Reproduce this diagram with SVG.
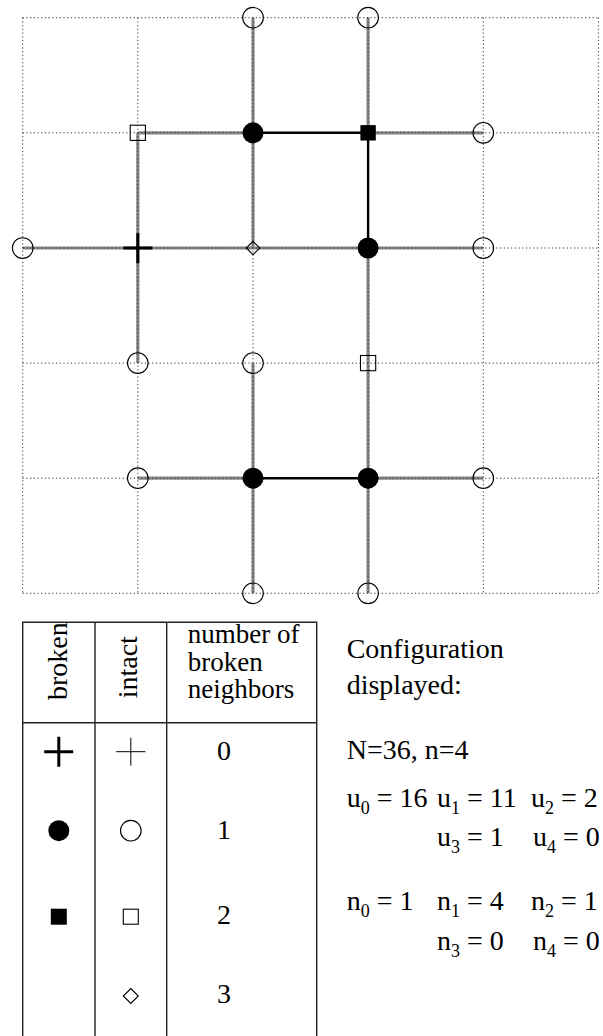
<svg xmlns="http://www.w3.org/2000/svg" width="603" height="1036" viewBox="0 0 603 1036">
<style>
.grid{stroke:#333;stroke-width:1;stroke-dasharray:1.2 2.5;fill:none}
.gray{stroke:#888;stroke-width:3.2;fill:none}
.blk{stroke:#000;stroke-width:2.4;fill:none}
.oc{fill:none;stroke:#000;stroke-width:1.1}
.fc{fill:#000;stroke:none}
.osq{fill:none;stroke:#000;stroke-width:1.1}
.tl{stroke:#222;stroke-width:1.4;fill:none}
text{font-family:"Liberation Serif","Times New Roman",serif;font-size:28px;fill:#000}
.hd{font-size:27px}
.sub{font-size:18px}
</style>
<rect width="603" height="1036" fill="#fff"/>
<g id="connectors">
<g id="bonds-intact">
<line class="gray" x1="253" y1="17.7" x2="253" y2="248"/>
<line class="gray" x1="253" y1="363.1" x2="253" y2="593.3"/>
<line class="gray" x1="137.8" y1="132.8" x2="137.8" y2="363.1"/>
<line class="gray" x1="368.1" y1="17.7" x2="368.1" y2="132.8"/>
<line class="gray" x1="368.1" y1="248" x2="368.1" y2="593.3"/>
<line class="gray" x1="137.8" y1="132.8" x2="253" y2="132.8"/>
<line class="gray" x1="368.1" y1="132.8" x2="483.3" y2="132.8"/>
<line class="gray" x1="22.7" y1="248" x2="483.3" y2="248"/>
<line class="gray" x1="137.8" y1="478.2" x2="253" y2="478.2"/>
<line class="gray" x1="368.1" y1="478.2" x2="483.3" y2="478.2"/>
</g>
</g>
<g id="grid">
<line class="grid" x1="22.7" y1="17.7" x2="598.4" y2="17.7"/>
<line class="grid" x1="22.7" y1="132.8" x2="598.4" y2="132.8"/>
<line class="grid" x1="22.7" y1="248" x2="598.4" y2="248"/>
<line class="grid" x1="22.7" y1="363.1" x2="598.4" y2="363.1"/>
<line class="grid" x1="22.7" y1="478.2" x2="598.4" y2="478.2"/>
<line class="grid" x1="22.7" y1="593.3" x2="598.4" y2="593.3"/>
<line class="grid" x1="22.7" y1="17.7" x2="22.7" y2="593.3"/>
<line class="grid" x1="137.8" y1="17.7" x2="137.8" y2="593.3"/>
<line class="grid" x1="253" y1="17.7" x2="253" y2="593.3"/>
<line class="grid" x1="368.1" y1="17.7" x2="368.1" y2="593.3"/>
<line class="grid" x1="483.3" y1="17.7" x2="483.3" y2="593.3"/>
<line class="grid" x1="598.4" y1="17.7" x2="598.4" y2="593.3"/>
</g>
<g id="connectors-broken">
<line class="blk" x1="253" y1="132.8" x2="368.1" y2="132.8"/>
<line class="blk" x1="368.1" y1="132.8" x2="368.1" y2="248"/>
<line class="blk" x1="253" y1="478.2" x2="368.1" y2="478.2"/>
</g>
<g id="n-2-0"><circle class="oc" cx="253" cy="17.7" r="10.3"/></g>
<g id="n-3-0"><circle class="oc" cx="368.1" cy="17.7" r="10.3"/></g>
<g id="n-1-1"><rect class="osq" x="130.2" y="125.2" width="15.2" height="15.2"/></g>
<g id="n-2-1"><circle class="fc" cx="253" cy="132.8" r="10.5"/></g>
<g id="n-3-1"><rect class="fc" x="360.4" y="125.1" width="15.4" height="15.4"/></g>
<g id="n-4-1"><circle class="oc" cx="483.3" cy="132.8" r="10.3"/></g>
<g id="n-0-2"><circle class="oc" cx="22.7" cy="248" r="10.3"/></g>
<g id="n-1-2"><path d="M123.3 248H152.3M137.8 233.3V263.3" stroke="#000" stroke-width="3" fill="none"/></g>
<g id="n-2-2"><path d="M253 241.3L259.7 248L253 254.7L246.3 248Z" fill="none" stroke="#000" stroke-width="1.1"/></g>
<g id="n-3-2"><circle class="fc" cx="368.1" cy="248" r="10.5"/></g>
<g id="n-4-2"><circle class="oc" cx="483.3" cy="248" r="10.3"/></g>
<g id="n-1-3"><circle class="oc" cx="137.8" cy="363.1" r="10.3"/></g>
<g id="n-2-3"><circle class="oc" cx="253" cy="363.1" r="10.3"/></g>
<g id="n-3-3"><rect class="osq" x="360.5" y="355.5" width="15.2" height="15.2"/></g>
<g id="n-1-4"><circle class="oc" cx="137.8" cy="478.2" r="10.3"/></g>
<g id="n-2-4"><circle class="fc" cx="253" cy="478.2" r="10.5"/></g>
<g id="n-3-4"><circle class="fc" cx="368.1" cy="478.2" r="10.5"/></g>
<g id="n-4-4"><circle class="oc" cx="483.3" cy="478.2" r="10.3"/></g>
<g id="n-2-5"><circle class="oc" cx="253" cy="593.3" r="10.3"/></g>
<g id="n-3-5"><circle class="oc" cx="368.1" cy="593.3" r="10.3"/></g>
<g id="legend-table">
<path class="tl" d="M22.7 1036V622.3H316.7V1036M95 622.3V1036M166.7 622.3V1036M22.7 722.7H316.7"/>
<text transform="translate(66.5 700) rotate(-90)">broken</text>
<text transform="translate(136.7 698.3) rotate(-90)">intact</text>
<text class="hd" x="187.7" y="643">number of</text>
<text class="hd" x="187.7" y="671">broken</text>
<text class="hd" x="187.7" y="698">neighbors</text>
<path d="M44.2 751.7H73.2M58.8 736.7V766.7" stroke="#000" stroke-width="3" fill="none"/>
<path d="M116.2 751.7H145.4M130.8 737.7V765.7" stroke="#000" stroke-width="1" fill="none"/>
<text x="217" y="760">0</text>
<circle class="fc" cx="58.8" cy="830.7" r="10.5"/>
<circle class="oc" cx="130.8" cy="830.7" r="10.3"/>
<text x="217" y="839">1</text>
<rect class="fc" x="50.8" y="908.7" width="16" height="16"/>
<rect class="osq" x="123.3" y="909.2" width="15" height="15"/>
<text x="217" y="924">2</text>
<path d="M130.8 988.5L138.3 996L130.8 1003.5L123.3 996Z" fill="none" stroke="#000" stroke-width="1.1"/>
<text x="217" y="1003">3</text>
</g>
<g id="config-text">
<text x="346.7" y="658">Configuration</text>
<text x="346.7" y="694">displayed:</text>
<text x="346.7" y="759">N=36, n=4</text>
<text x="346.7" y="807">u<tspan class="sub" dy="7">0</tspan><tspan dy="-7"> = 16</tspan></text>
<text x="437" y="807">u<tspan class="sub" dy="7">1</tspan><tspan dy="-7"> = 11</tspan></text>
<text x="531" y="807">u<tspan class="sub" dy="7">2</tspan><tspan dy="-7"> = 2</tspan></text>
<text x="437" y="846">u<tspan class="sub" dy="7">3</tspan><tspan dy="-7"> = 1</tspan></text>
<text x="533" y="846">u<tspan class="sub" dy="7">4</tspan><tspan dy="-7"> = 0</tspan></text>
<text x="346.7" y="910">n<tspan class="sub" dy="7">0</tspan><tspan dy="-7"> = 1</tspan></text>
<text x="437" y="910">n<tspan class="sub" dy="7">1</tspan><tspan dy="-7"> = 4</tspan></text>
<text x="531" y="910">n<tspan class="sub" dy="7">2</tspan><tspan dy="-7"> = 1</tspan></text>
<text x="437" y="950">n<tspan class="sub" dy="7">3</tspan><tspan dy="-7"> = 0</tspan></text>
<text x="533" y="950">n<tspan class="sub" dy="7">4</tspan><tspan dy="-7"> = 0</tspan></text>
</g>
</svg>
